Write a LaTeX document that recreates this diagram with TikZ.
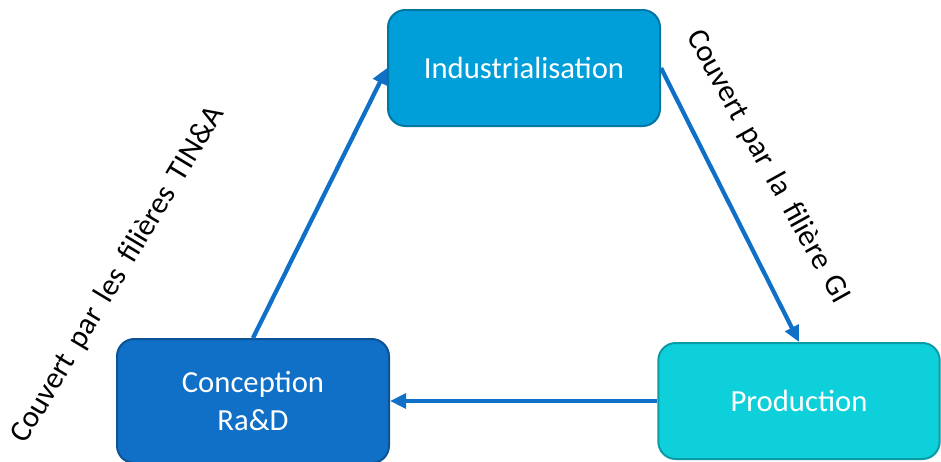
\documentclass[tikz,border=0pt]{standalone}
\usepackage{fontspec}
\setmainfont{Carlito}
\usepackage{xcolor}
\usetikzlibrary{arrows.meta}

\definecolor{indfill}{RGB}{0,159,218}
\definecolor{indline}{RGB}{0,118,163}
\definecolor{concfill}{RGB}{16,111,198}
\definecolor{concline}{RGB}{12,83,150}
\definecolor{prodfill}{RGB}{14,208,218}
\definecolor{prodline}{RGB}{10,155,165}
\definecolor{flowblue}{RGB}{16,112,200}

\tikzset{
    stage/.style={draw, line width=1.5pt, rounded corners=13pt, text=white,
        align=center, font=\fontsize{23}{28}\selectfont},
    flow/.style={-{Triangle[length=12pt, width=11pt]}, draw=flowblue, line width=3.2pt},
    cover/.style={font=\fontsize{23}{28}\selectfont, text=black}
}

\begin{document}
\begin{tikzpicture}[x=0.75pt, y=-0.75pt]
    \useasboundingbox (0,0) rectangle (941,461);

    \node[stage, fill=indfill, draw=indline, minimum width=204pt, minimum height=87pt] (ind) at (524,68) {Industrialisation};
    \node[stage, fill=concfill, draw=concline, minimum width=204pt, minimum height=93pt] (conc) at (253,401) {Conception\\Ra\&D};
    \node[stage, fill=prodfill, draw=prodline, minimum width=211pt, minimum height=87pt] (prod) at (799,401) {Production};

    \draw[flow] (conc.north) -- (ind.west);
    \draw[flow] (ind.east) -- (prod.north);
    \draw[flow] (prod.west) -- (conc.east);

    \node[cover, rotate=59] (tina) at (118,275) {Couvert\, par\, les\, filières\, TIN\&A};
    \node[cover, rotate=-61] (gi) at (768,167) {Couvert\, par\, la\, filière\, GI};
\end{tikzpicture}
\end{document}
